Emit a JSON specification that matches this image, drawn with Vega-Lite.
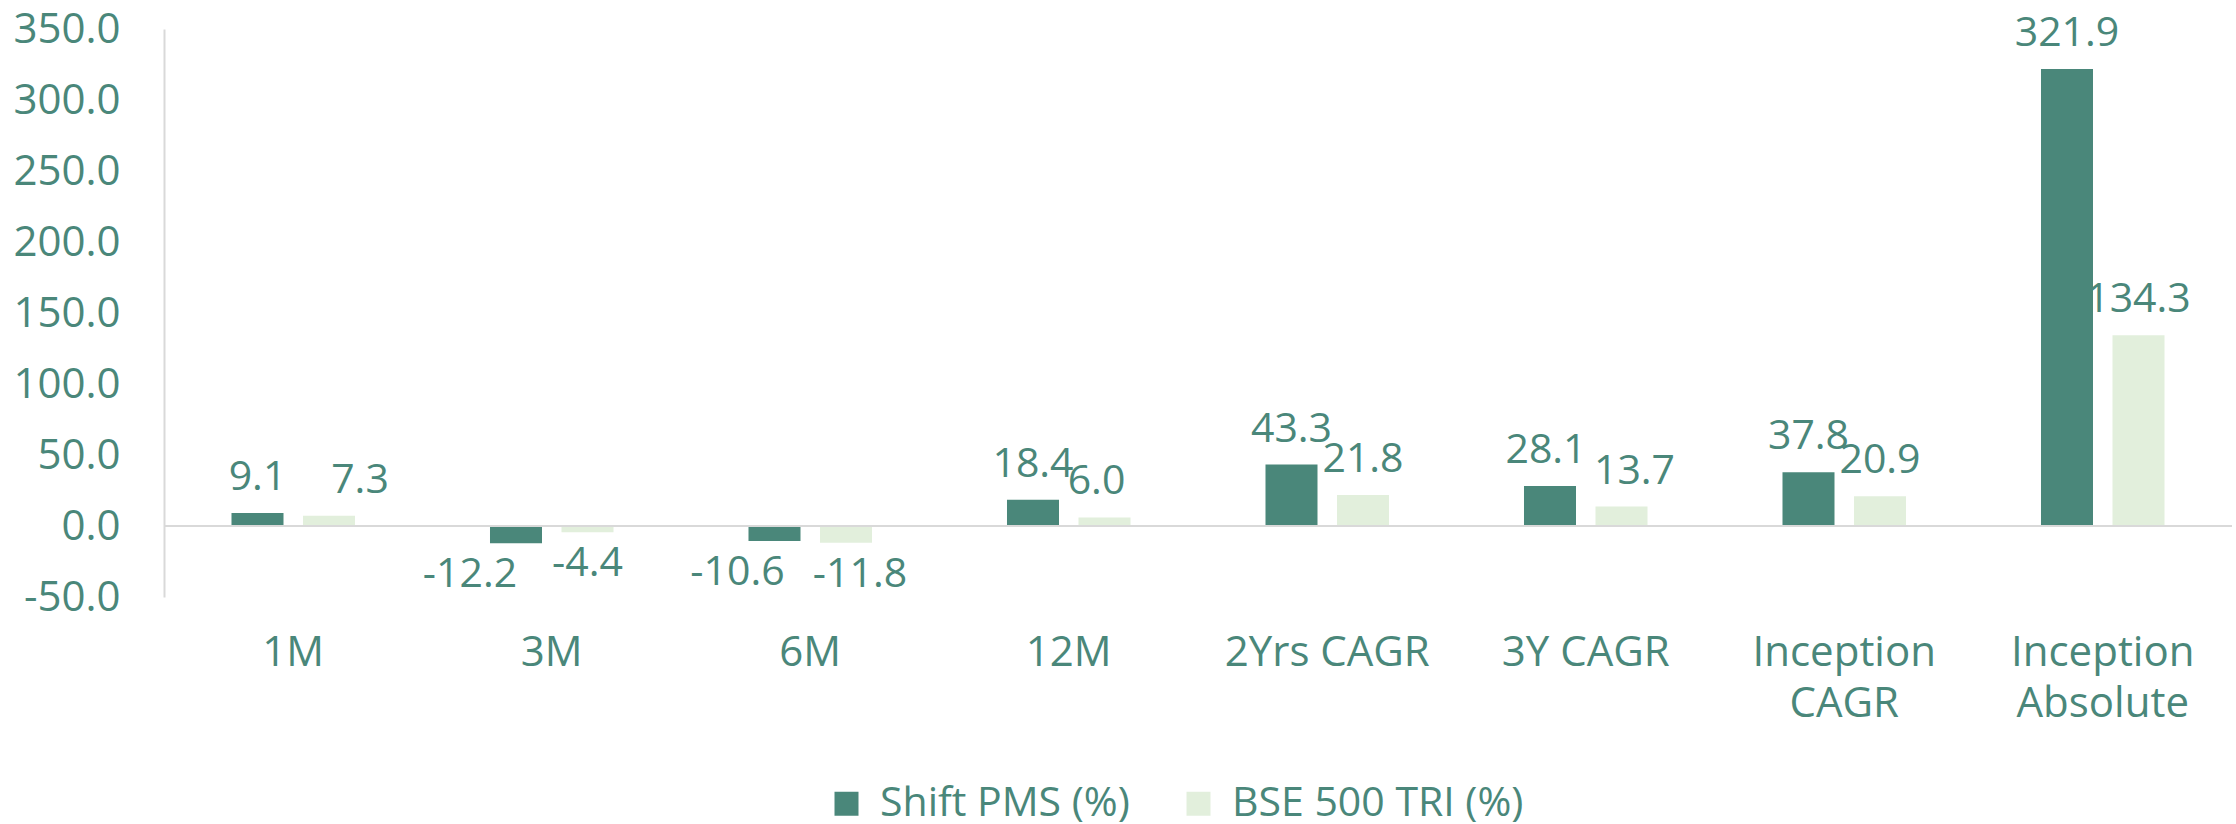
{
  "$schema": "https://vega.github.io/schema/vega-lite/v6.json",
  "width": 2068,
  "height": 568,
  "autosize": {"type": "none"},
  "padding": {"left": 164, "top": 29, "right": 4, "bottom": 227},
  "background": "white",
  "config": {
    "locale": {"number": {"decimal": ".", "thousands": ",", "grouping": [3], "currency": ["", ""], "minus": "-"}},
    "view": {"stroke": null},
    "font": "Open Sans",
    "axis": {"labelFont": "Open Sans", "labelFontSize": 42, "labelFontWeight": 400, "labelColor": "#4a877a", "grid": false, "ticks": false, "title": null},
    "legend": {"labelFont": "Open Sans", "labelFontSize": 41, "labelFontWeight": 400, "labelColor": "#4a877a"},
    "text": {"fontSize": 41, "fontWeight": 400, "color": "#4a877a", "font": "Open Sans", "align": "center"}
  },
  "data": {
    "values": [
      {"period": "1M", "series": "Shift PMS (%)", "value": 9.1},
      {"period": "1M", "series": "BSE 500 TRI (%)", "value": 7.3},
      {"period": "3M", "series": "Shift PMS (%)", "value": -12.2},
      {"period": "3M", "series": "BSE 500 TRI (%)", "value": -4.4},
      {"period": "6M", "series": "Shift PMS (%)", "value": -10.6},
      {"period": "6M", "series": "BSE 500 TRI (%)", "value": -11.8},
      {"period": "12M", "series": "Shift PMS (%)", "value": 18.4},
      {"period": "12M", "series": "BSE 500 TRI (%)", "value": 6.0},
      {"period": "2Yrs CAGR", "series": "Shift PMS (%)", "value": 43.3},
      {"period": "2Yrs CAGR", "series": "BSE 500 TRI (%)", "value": 21.8},
      {"period": "3Y CAGR", "series": "Shift PMS (%)", "value": 28.1},
      {"period": "3Y CAGR", "series": "BSE 500 TRI (%)", "value": 13.7},
      {"period": "Inception CAGR", "series": "Shift PMS (%)", "value": 37.8},
      {"period": "Inception CAGR", "series": "BSE 500 TRI (%)", "value": 20.9},
      {"period": "Inception Absolute", "series": "Shift PMS (%)", "value": 321.9},
      {"period": "Inception Absolute", "series": "BSE 500 TRI (%)", "value": 134.3}
    ]
  },
  "encoding": {
    "x": {
      "field": "period", "type": "nominal", "sort": null,
      "scale": {"paddingInner": 0.5222, "paddingOuter": 0.2611},
      "axis": {
        "orient": "bottom", "domain": false, "labelAngle": 0, "labelPadding": 35,
        "labelBaseline": "top", "labelLineHeight": 51, "labelLimit": 400,
        "labelExpr": "indexof(datum.value, 'Inception') == 0 ? split(datum.value, ' ') : datum.value"
      }
    },
    "xOffset": {
      "field": "series", "type": "nominal",
      "scale": {"domain": ["Shift PMS (%)", "BSE 500 TRI (%)"], "paddingInner": 0.2727, "paddingOuter": 0}
    },
    "y": {
      "field": "value", "type": "quantitative",
      "scale": {"domain": [-50, 350], "nice": false},
      "axis": {
        "values": [-50, 0, 50, 100, 150, 200, 250, 300, 350], "format": ".1f",
        "domain": true, "domainColor": "#d9d9d9", "domainWidth": 2, "labelPadding": 44
      }
    },
    "text": {"field": "value", "type": "quantitative", "format": ".1f"}
  },
  "layer": [
    {
      "mark": {"type": "bar"},
      "encoding": {
        "text": null,
        "color": {
          "field": "series", "type": "nominal",
          "scale": {"domain": ["Shift PMS (%)", "BSE 500 TRI (%)"], "range": ["#4a877a", "#e2efdc"]},
          "legend": {
            "title": null, "orient": "none", "direction": "horizontal",
            "legendX": 662, "legendY": 754, "padding": 0,
            "symbolType": "square", "symbolSize": 576, "symbolStrokeWidth": 0,
            "labelOffset": 13, "columnPadding": 48, "labelLimit": 600
          }
        }
      }
    },
    {
      "mark": {"type": "rule", "color": "#d9d9d9", "strokeWidth": 2},
      "encoding": {"y": {"datum": 0}, "x": null, "xOffset": null, "text": null}
    },
    {
      "transform": [{"filter": "datum.value >= 0 && !(datum.period == '1M' && datum.series == 'BSE 500 TRI (%)') && !(datum.period == '12M' && datum.series == 'BSE 500 TRI (%)') && !(datum.period == '3Y CAGR')"}],
      "mark": {"type": "text", "baseline": "alphabetic", "dy": -23}
    },
    {
      "transform": [{"filter": "datum.period == '1M' && datum.series == 'BSE 500 TRI (%)'"}],
      "mark": {"type": "text", "baseline": "alphabetic", "dy": -23, "dx": 31}
    },
    {
      "transform": [{"filter": "datum.period == '12M' && datum.series == 'BSE 500 TRI (%)'"}],
      "mark": {"type": "text", "baseline": "alphabetic", "dy": -23, "dx": -8}
    },
    {
      "transform": [{"filter": "datum.period == '3Y CAGR' && datum.series == 'Shift PMS (%)'"}],
      "mark": {"type": "text", "baseline": "alphabetic", "dy": -23, "dx": -4}
    },
    {
      "transform": [{"filter": "datum.period == '3Y CAGR' && datum.series == 'BSE 500 TRI (%)'"}],
      "mark": {"type": "text", "baseline": "alphabetic", "dy": -23, "dx": 13}
    },
    {
      "transform": [{"filter": "datum.period == '3M' && datum.series == 'BSE 500 TRI (%)'"}],
      "mark": {"type": "text", "baseline": "top", "dy": 12}
    },
    {
      "transform": [{"filter": "datum.period == '3M' && datum.series == 'Shift PMS (%)'"}],
      "mark": {"type": "text", "baseline": "top", "dy": 12, "dx": -46}
    },
    {
      "transform": [{"filter": "datum.period == '6M' && datum.series == 'Shift PMS (%)'"}],
      "mark": {"type": "text", "baseline": "top", "dy": 12, "dx": -37}
    },
    {
      "transform": [{"filter": "datum.period == '6M' && datum.series == 'BSE 500 TRI (%)'"}],
      "mark": {"type": "text", "baseline": "top", "dy": 12, "dx": 14}
    }
  ]
}
